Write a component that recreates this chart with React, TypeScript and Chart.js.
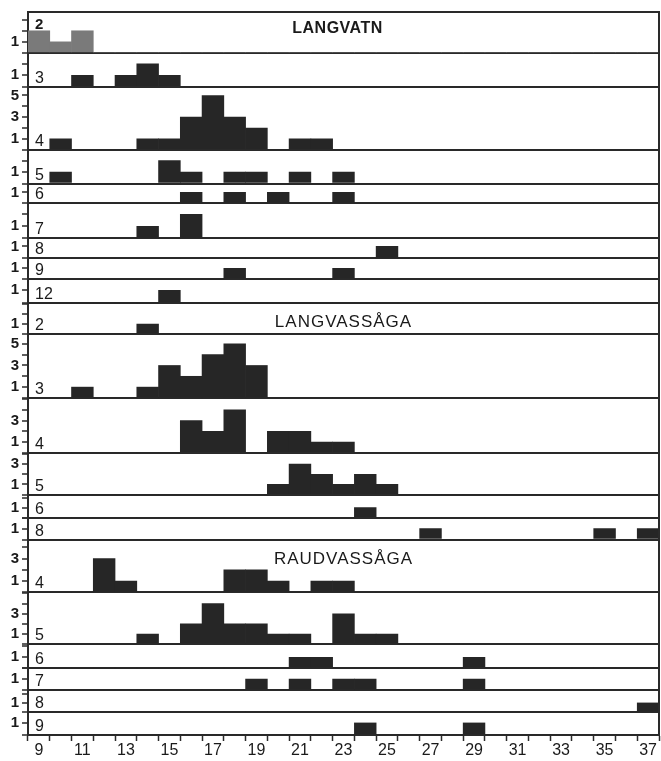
import React, { useEffect, useRef } from "react";
import { Chart, registerables } from "chart.js";

Chart.register(...registerables);

// ---------- data ----------
const LENGTHS = ["9","10","11","12","13","14","15","16","17","18","19","20","21","22","23","24","25","26","27","28","29","30","31","32","33","34","35","36","37"];

//                      9 ... 18               | 19 ... 28             | 29 ... 37
const LANGVATN_AGE2  = [2,1,2,0,0,0,0,0,0,0, 0,0,0,0,0,0,0,0,0,0, 0,0,0,0,0,0,0,0,0];
const LANGVATN_AGE3  = [0,0,1,0,1,2,1,0,0,0, 0,0,0,0,0,0,0,0,0,0, 0,0,0,0,0,0,0,0,0];
const LANGVATN_AGE4  = [0,1,0,0,0,1,1,3,5,3, 2,0,1,1,0,0,0,0,0,0, 0,0,0,0,0,0,0,0,0];
const LANGVATN_AGE5  = [0,1,0,0,0,0,2,1,0,1, 1,0,1,0,1,0,0,0,0,0, 0,0,0,0,0,0,0,0,0];
const LANGVATN_AGE6  = [0,0,0,0,0,0,0,1,0,1, 0,1,0,0,1,0,0,0,0,0, 0,0,0,0,0,0,0,0,0];
const LANGVATN_AGE7  = [0,0,0,0,0,1,0,2,0,0, 0,0,0,0,0,0,0,0,0,0, 0,0,0,0,0,0,0,0,0];
const LANGVATN_AGE8  = [0,0,0,0,0,0,0,0,0,0, 0,0,0,0,0,0,1,0,0,0, 0,0,0,0,0,0,0,0,0];
const LANGVATN_AGE9  = [0,0,0,0,0,0,0,0,0,1, 0,0,0,0,1,0,0,0,0,0, 0,0,0,0,0,0,0,0,0];
const LANGVATN_AGE12 = [0,0,0,0,0,0,1,0,0,0, 0,0,0,0,0,0,0,0,0,0, 0,0,0,0,0,0,0,0,0];

const LANGVASSAGA_AGE2 = [0,0,0,0,0,1,0,0,0,0, 0,0,0,0,0,0,0,0,0,0, 0,0,0,0,0,0,0,0,0];
const LANGVASSAGA_AGE3 = [0,0,1,0,0,1,3,2,4,5, 3,0,0,0,0,0,0,0,0,0, 0,0,0,0,0,0,0,0,0];
const LANGVASSAGA_AGE4 = [0,0,0,0,0,0,0,3,2,4, 0,2,2,1,1,0,0,0,0,0, 0,0,0,0,0,0,0,0,0];
const LANGVASSAGA_AGE5 = [0,0,0,0,0,0,0,0,0,0, 0,1,3,2,1,2,1,0,0,0, 0,0,0,0,0,0,0,0,0];
const LANGVASSAGA_AGE6 = [0,0,0,0,0,0,0,0,0,0, 0,0,0,0,0,1,0,0,0,0, 0,0,0,0,0,0,0,0,0];
const LANGVASSAGA_AGE8 = [0,0,0,0,0,0,0,0,0,0, 0,0,0,0,0,0,0,0,1,0, 0,0,0,0,0,0,1,0,1];

const RAUDVASSAGA_AGE4 = [0,0,0,3,1,0,0,0,0,2, 2,1,0,1,1,0,0,0,0,0, 0,0,0,0,0,0,0,0,0];
const RAUDVASSAGA_AGE5 = [0,0,0,0,0,1,0,2,4,2, 2,1,1,0,3,1,1,0,0,0, 0,0,0,0,0,0,0,0,0];
const RAUDVASSAGA_AGE6 = [0,0,0,0,0,0,0,0,0,0, 0,0,1,1,0,0,0,0,0,0, 1,0,0,0,0,0,0,0,0];
const RAUDVASSAGA_AGE7 = [0,0,0,0,0,0,0,0,0,0, 1,0,1,0,1,1,0,0,0,0, 1,0,0,0,0,0,0,0,0];
const RAUDVASSAGA_AGE8 = [0,0,0,0,0,0,0,0,0,0, 0,0,0,0,0,0,0,0,0,0, 0,0,0,0,0,0,0,0,1];
const RAUDVASSAGA_AGE9 = [0,0,0,0,0,0,0,0,0,0, 0,0,0,0,0,1,0,0,0,0, 1,0,0,0,0,0,0,0,0];

const SERIES = [
  LANGVATN_AGE2, LANGVATN_AGE3, LANGVATN_AGE4, LANGVATN_AGE5, LANGVATN_AGE6,
  LANGVATN_AGE7, LANGVATN_AGE8, LANGVATN_AGE9, LANGVATN_AGE12,
  LANGVASSAGA_AGE2, LANGVASSAGA_AGE3, LANGVASSAGA_AGE4, LANGVASSAGA_AGE5,
  LANGVASSAGA_AGE6, LANGVASSAGA_AGE8,
  RAUDVASSAGA_AGE4, RAUDVASSAGA_AGE5, RAUDVASSAGA_AGE6, RAUDVASSAGA_AGE7,
  RAUDVASSAGA_AGE8, RAUDVASSAGA_AGE9,
];
const AGE_LABELS = ["2","3","4","5","6","7","8","9","12","2","3","4","5","6","8","4","5","6","7","8","9"];
const SITE_NAMES = ["LANGVATN", "LANGVASSÅGA", "RAUDVASSÅGA"];
const SITE_FIRST_PANEL = [0, 9, 15];

// ---------- layout / style ----------
const PANEL_HEIGHTS = [41,34,63,34,20,35,20,21,24,31,64,55,42,23,22,53,52,24,22,22,23];
const PANEL_MAX = [3.7,2.95,5.8,2.95,1.8,2.9,1.67,1.9,1.85,3.1,5.9,5.1,4.1,2.3,2,4.7,5.1,2.2,2,2.4,1.9];
const FONT = '"Liberation Sans", Arial, Helvetica, sans-serif';
const LINE = "#2a2a2a";
const BAR = "#262626";
const GRAY_BAR = "#7a7a7a";
const TEXT = "#1a1a1a";

const annotations = {
  id: "annotations",
  afterDraw(chart: any) {
    const ctx = chart.ctx;
    const { left, right, top, bottom } = chart.chartArea;
    ctx.save();
    ctx.strokeStyle = LINE;
    ctx.lineWidth = 2;
    ctx.beginPath();
    ctx.moveTo(left, top);
    ctx.lineTo(right, top);
    ctx.lineTo(right, bottom);
    ctx.stroke();

    ctx.fillStyle = TEXT;
    ctx.textAlign = "left";
    ctx.textBaseline = "alphabetic";
    AGE_LABELS.forEach((lab, i) => {
      const s = chart.scales["y" + i];
      if (i === 0) {
        ctx.font = `bold 15px ${FONT}`;
        ctx.fillText(lab, left + 7, s.top + 17);
      } else {
        ctx.font = `16px ${FONT}`;
        ctx.fillText(lab, left + 7, s.bottom - 4);
      }
    });

    ctx.textAlign = "center";
    const cx = (left + right) / 2;
    SITE_NAMES.forEach((name, k) => {
      const s = chart.scales["y" + SITE_FIRST_PANEL[k]];
      if (k === 0) {
        ctx.font = `bold 16px ${FONT}`;
        (ctx as any).letterSpacing = "0.5px";
        ctx.fillText(name, cx - 6, s.top + 21);
      } else {
        ctx.font = `17px ${FONT}`;
        (ctx as any).letterSpacing = "1px";
        ctx.fillText(name, cx, s.top + 24);
      }
    });
    ctx.restore();
  },
};

export default function App() {
  const canvasRef = useRef<HTMLCanvasElement | null>(null);

  useEffect(() => {
    if (!canvasRef.current) return;
    const scales: any = {
      x: {
        type: "category",
        labels: LENGTHS,
        offset: true,
        grid: {
          offset: true,
          drawOnChartArea: false,
          drawTicks: true,
          tickLength: 6,
          tickWidth: 1.5,
          color: LINE,
        },
        border: { display: true, color: LINE, width: 2 },
        ticks: {
          autoSkip: false,
          maxRotation: 0,
          padding: 0,
          color: TEXT,
          font: { family: FONT, size: 16 },
          callback: (_v: any, idx: number) => (idx % 2 === 0 ? LENGTHS[idx] : ""),
        },
        afterFit: (s: any) => {
          s.height = 26;
        },
      },
    };
    SERIES.forEach((data, i) => {
      const dataMax = Math.max(...data);
      scales["y" + i] = {
        type: "linear",
        position: "left",
        stack: "panels",
        stackWeight: PANEL_HEIGHTS[i],
        weight: 100 - i,
        min: 0,
        max: PANEL_MAX[i],
        grid: {
          drawOnChartArea: true,
          drawTicks: true,
          tickLength: 6,
          tickWidth: 1.5,
          tickColor: LINE,
          lineWidth: 2,
          color: (c: any) => (c.tick && c.tick.value === 0 ? LINE : "rgba(0,0,0,0)"),
        },
        border: { display: true, color: LINE, width: 2 },
        ticks: {
          stepSize: 1,
          includeBounds: false,
          autoSkip: false,
          padding: 3,
          color: TEXT,
          font: { family: FONT, size: 15, weight: "bold" },
          callback: (v: number) => (v % 2 === 1 && v <= dataMax ? String(v) : ""),
        },
        afterFit: (s: any) => {
          s.width = 28;
        },
      };
    });

    const chart = new Chart(canvasRef.current, {
      type: "bar",
      data: {
        labels: LENGTHS,
        datasets: SERIES.map((data, i) => ({
          data,
          xAxisID: "x",
          yAxisID: "y" + i,
          backgroundColor: i === 0 ? GRAY_BAR : BAR,
          borderWidth: 0,
          barPercentage: 1,
          categoryPercentage: 1,
          grouped: false,
        })),
      },
      options: {
        animation: false,
        responsive: true,
        maintainAspectRatio: false,
        layout: { autoPadding: false, padding: { top: 10, right: 2, left: 0, bottom: 0 } },
        plugins: { legend: { display: false }, tooltip: { enabled: false } },
        scales,
      } as any,
      plugins: [annotations],
    });
    return () => chart.destroy();
  }, []);

  return (
    <div style={{ position: "absolute", left: 0, top: 0, width: 661, height: 761, background: "#fff" }}>
      <canvas ref={canvasRef} style={{ display: "block" }} />
    </div>
  );
}
